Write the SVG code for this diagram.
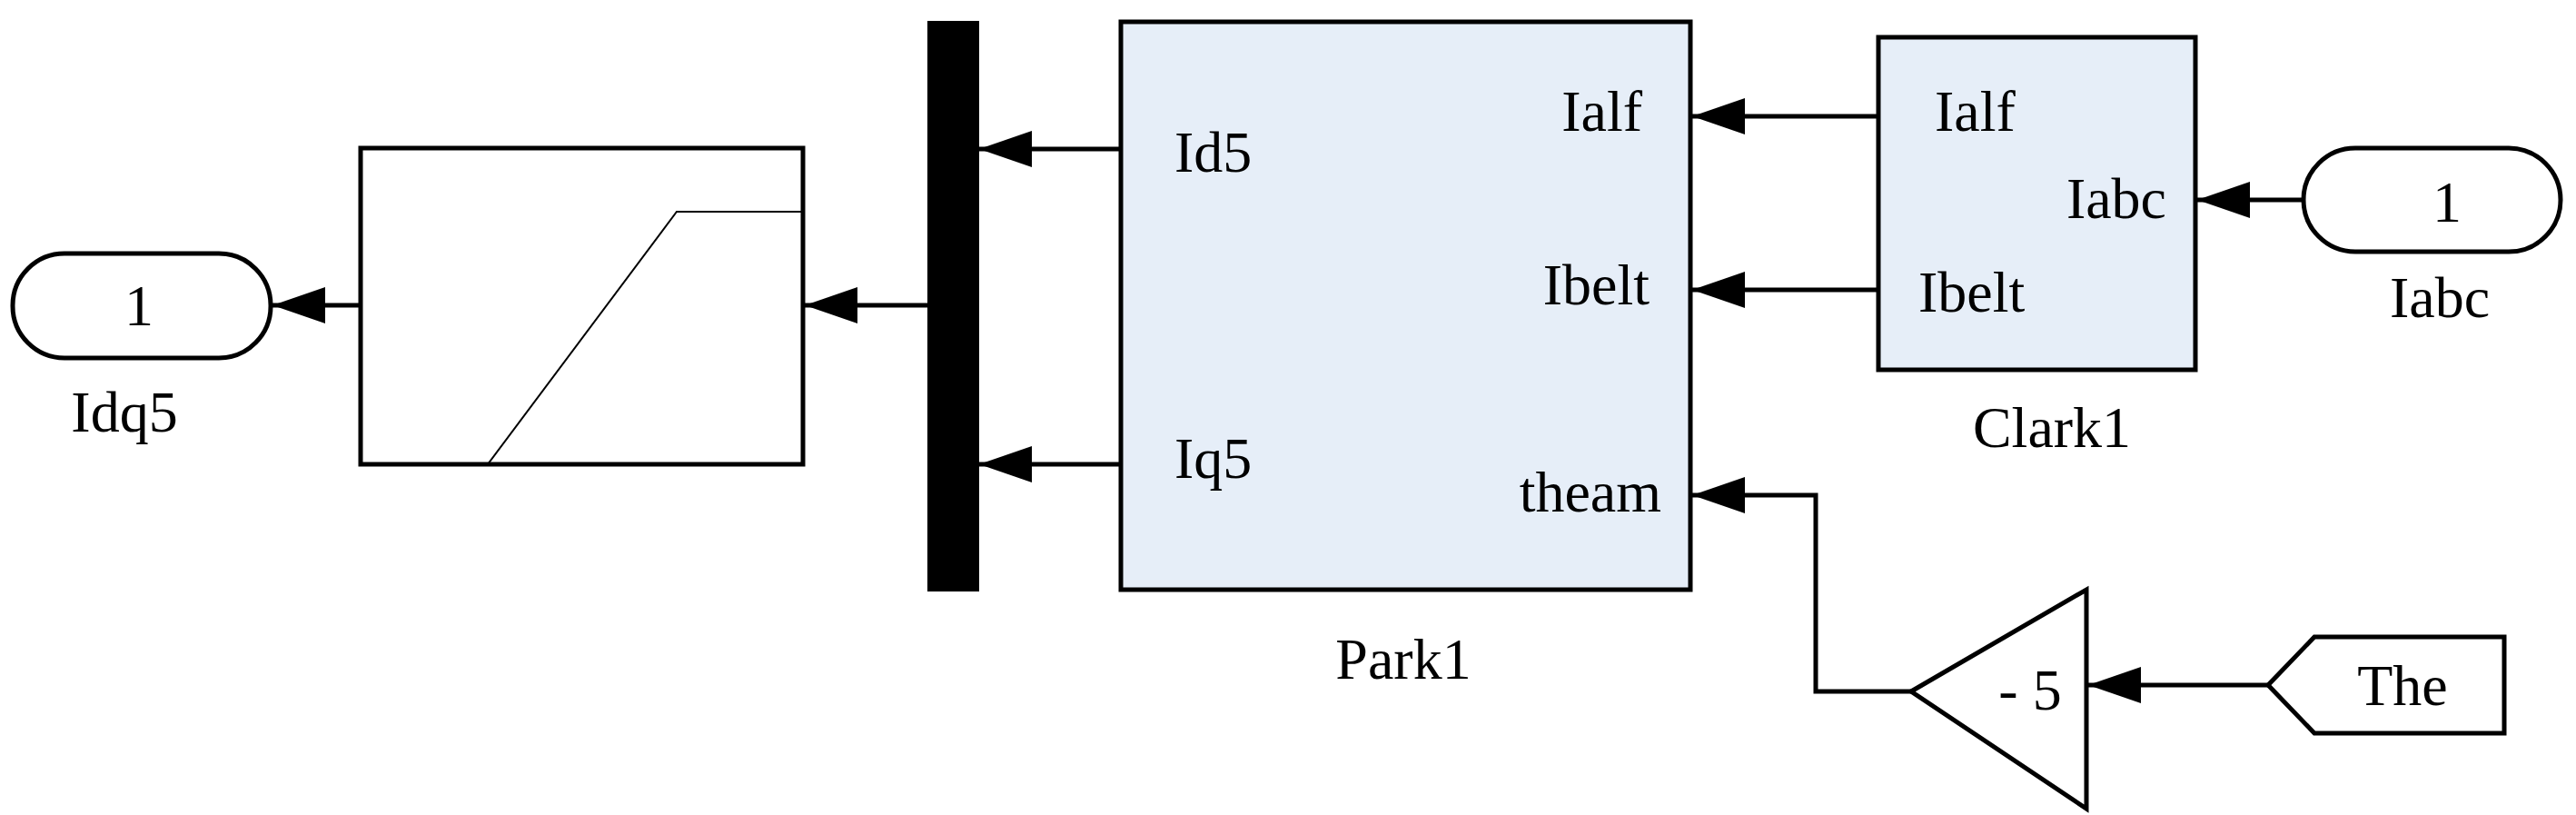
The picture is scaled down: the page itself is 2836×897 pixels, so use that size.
<svg xmlns="http://www.w3.org/2000/svg" width="2836" height="897" viewBox="0 0 2836 897">
<style>
.b{fill:#fff;stroke:#000;stroke-width:5}
.s{fill:#e6eef8;stroke:#000;stroke-width:5}
.w{fill:none;stroke:#000;stroke-width:5}
text{font-family:"Liberation Serif",serif;font-size:64px;fill:#000}
.m{text-anchor:middle}.e{text-anchor:end}
</style>
<defs><marker id="a" markerUnits="userSpaceOnUse" markerWidth="60" markerHeight="40" refX="58" refY="20" orient="auto"><path d="M0,0 L58,20 L0,40 Z" fill="#000"/></marker></defs>
<g id="connectors">
<line class="w" x1="397" y1="336" x2="300" y2="336" marker-end="url(#a)"/>
<line class="w" x1="1021" y1="336" x2="886" y2="336" marker-end="url(#a)"/>
<line class="w" x1="1234" y1="164" x2="1078" y2="164" marker-end="url(#a)"/>
<line class="w" x1="1234" y1="511" x2="1078" y2="511" marker-end="url(#a)"/>
<line class="w" x1="2068" y1="128" x2="1863" y2="128" marker-end="url(#a)"/>
<line class="w" x1="2068" y1="319" x2="1863" y2="319" marker-end="url(#a)"/>
<line class="w" x1="2536" y1="220" x2="2419" y2="220" marker-end="url(#a)"/>
<polyline class="w" points="2104,761 1999,761 1999,545 1863,545" marker-end="url(#a)"/>
<line class="w" x1="2497" y1="754" x2="2299" y2="754" marker-end="url(#a)"/>
</g>
<g id="Idq5"><rect class="b" x="14" y="279" width="284" height="115" rx="57"/><text class="m" x="153" y="358">1</text><text class="m" x="137" y="475">Idq5</text></g>
<g id="Saturation"><rect class="b" x="397" y="163" width="487" height="348"/><polyline fill="none" stroke="#000" stroke-width="2" points="537,511 745,233 884,233"/></g>
<g id="Mux"><rect x="1021" y="23" width="57" height="628" fill="#000"/></g>
<g id="Park1"><rect class="s" x="1234" y="24" width="627" height="625"/>
<text x="1293" y="189">Id5</text><text x="1293" y="526">Iq5</text>
<text class="e" x="1808" y="144">Ialf</text><text class="e" x="1816" y="335">Ibelt</text><text class="e" x="1829" y="563">theam</text>
<text class="m" x="1545" y="747">Park1</text></g>
<g id="Clark1"><rect class="s" x="2068" y="41" width="349" height="366"/>
<text x="2130" y="144">Ialf</text><text x="2112" y="343">Ibelt</text><text class="e" x="2385" y="240">Iabc</text>
<text class="m" x="2259" y="492">Clark1</text></g>
<g id="Iabc"><rect class="b" x="2536" y="163" width="283" height="114" rx="57"/><text class="m" x="2694" y="244">1</text><text class="m" x="2686" y="349">Iabc</text></g>
<g id="Gain"><polygon class="b" points="2104,761 2297,649 2297,890"/><text class="m" x="2235" y="781">- 5</text></g>
<g id="The"><polygon class="b" points="2497,754 2548,701 2757,701 2757,807 2548,807"/><text class="m" x="2645" y="776">The</text></g>
</svg>
